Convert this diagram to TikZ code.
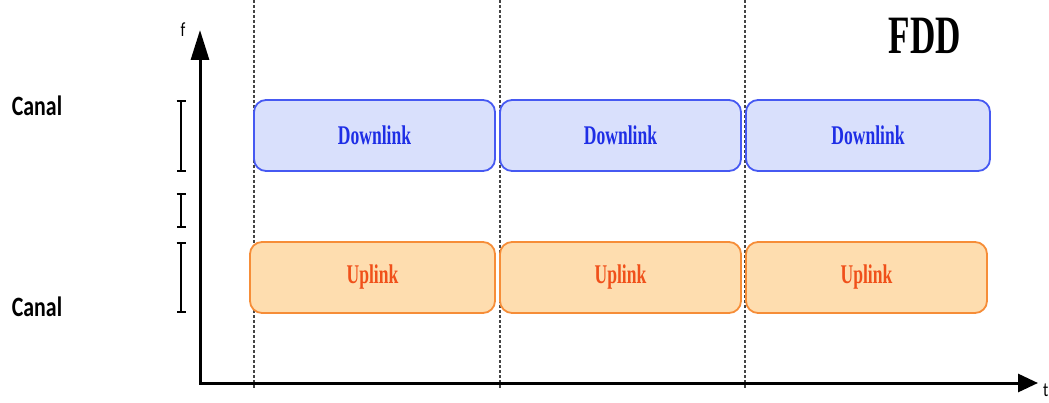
\documentclass[tikz,border=0pt]{standalone}
\usepackage{fontspec}
\usepackage{tikz}
\usetikzlibrary{arrows.meta,positioning}
\newfontfamily\boxfont[FakeStretch=0.65]{Liberation Serif}
\newfontfamily\canalfont[FakeStretch=0.78]{Carlito}
\definecolor{dlblue}{HTML}{4659F2}
\definecolor{dlfill}{HTML}{D9E0FC}
\definecolor{dltext}{HTML}{1E2EE6}
\definecolor{ulorange}{HTML}{F68D38}
\definecolor{ulfill}{HTML}{FEDDAF}
\definecolor{ultext}{HTML}{F0501A}
\definecolor{gridgray}{HTML}{444444}

\begin{document}
\begin{tikzpicture}[
x=1pt, y=-1pt,
node distance=5pt,
chan/.style={draw, rounded corners=12pt, line width=1.8pt, outer sep=0pt, minimum height=71pt, inner sep=0pt, font=\boxfont\bfseries\fontsize{27}{27}\selectfont},
down/.style={chan, draw=dlblue, fill=dlfill, text=dltext, minimum width=241pt},
up/.style={chan, draw=ulorange, fill=ulfill, text=ultext, minimum width=241pt},
axis/.style={{Triangle[length=30pt,width=18pt]}-{Triangle[length=20pt,width=18pt]}, line width=3pt},
slot/.style={gridgray, line width=1.4pt, dash pattern=on 3pt off 2pt},
span/.style={{Bar[width=9pt]}-{Bar[width=9pt]}, line width=2pt},
lbl/.style={font=\canalfont\bfseries\fontsize{28}{28}\selectfont}
]
\useasboundingbox (0,0) rectangle (1049,403);

% time slots
\foreach \x in {254,500,745}
  \draw[slot] (\x,0) -- (\x,388);

% downlink channel
\node[down, anchor=north west] (dl1) at (254,100) {Downlink};
\node[down, right=of dl1] (dl2) {Downlink};
\node[down, right=of dl2, minimum width=244pt] (dl3) {Downlink};

% uplink channel
\node[up, anchor=north west, minimum width=245pt] (ul1) at (250,242) {Uplink};
\node[up, right=of ul1] (ul2) {Uplink};
\node[up, right=of ul2] (ul3) {Uplink};

% axes
\coordinate (origin) at (200,383);
\coordinate (ftop) at (200,30);
\coordinate (tend) at (1038,383);
\draw[axis] (ftop) -- (origin) -- (tend);
\node[font=\canalfont\fontsize{20}{20}\selectfont] (f) at (183,30) {f};
\node[font=\canalfont\fontsize{20}{20}\selectfont, anchor=west, inner sep=0pt] (t) at (1043,390) {t};

% bandwidths
\coordinate (dltop) at (181,100);
\coordinate (dlbot) at (181,172);
\coordinate (gaptop) at (181,193);
\coordinate (gapbot) at (181,228);
\coordinate (ultop) at (181,242);
\coordinate (ulbot) at (181,313);
\draw[span] (dltop) -- (dlbot);
\draw[span] (gaptop) -- (gapbot);
\draw[span] (ultop) -- (ulbot);

\node[lbl] (canal1) at (37,106) {Canal};
\node[lbl] (canal2) at (37,307) {Canal};

\node[font=\boxfont\bfseries\fontsize{54}{54}\selectfont] (fdd) at (925,36) {FDD};

\end{tikzpicture}
\end{document}
